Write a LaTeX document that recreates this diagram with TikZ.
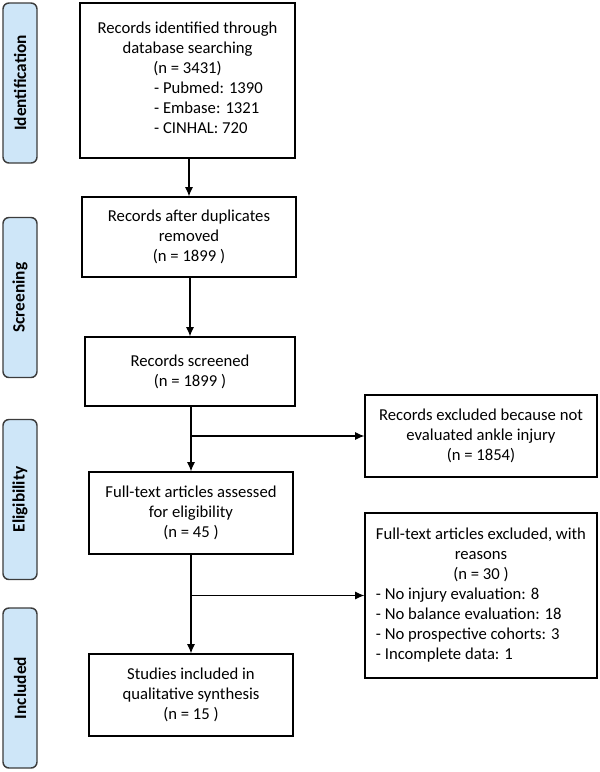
\documentclass[tikz,border=0pt]{standalone}
\usepackage{fontspec}
\setmainfont{Carlito}
\usepackage{tikz}
\usetikzlibrary{arrows.meta,positioning}

\definecolor{phaseblue}{RGB}{206,230,248}
\definecolor{phaseline}{RGB}{60,60,60}

\begin{document}
\begin{tikzpicture}[x=0.75pt,y=-0.75pt]
				\tikzstyle{Phase}	= [draw=phaseline, line width=1.1pt, fill=phaseblue, rounded corners=4.5pt, minimum width=25.5pt, minimum height=120pt, inner sep=0pt]
				\tikzstyle{PhaseText}	= [rotate=90, font=\fontsize{13}{15}\selectfont\bfseries]
				\tikzstyle{Box}		= [draw, line width=0.9pt, fill=white, align=center, inner sep=0pt, font=\fontsize{12.5}{15}\selectfont]
				\tikzstyle{Flow}	= [line width=0.8pt, -{Latex[length=7pt,width=6pt]}]

				\useasboundingbox (0,0) rectangle (600,772);

				% phases
				\node (pid) at (20,83) [Phase] {};
				\node (tid) at (pid.center) [PhaseText] {Identification};
				\node (psc) at (20,297.5) [Phase] {};
				\node (tsc) at (psc.center) [PhaseText] {Screening};
				\node (pel) at (20,499.5) [Phase] {};
				\node (tel) at (pel.center) [PhaseText] {Eligibility};
				\node (pin) at (20,688) [Phase] {};
				\node (tin) at (pin.center) [PhaseText] {Included};

				% main column
				\node (found) at (187.5,80.5) [Box, minimum width=161.25pt, minimum height=116.25pt]
					{Records identified through\\database searching\\(n = 3431)\\
					\makebox[50pt][l]{\begin{tabular}[t]{@{}l@{}}- Pubmed: 1390\\- Embase: 1321\\- CINHAL: 720\end{tabular}}};
				\node (dedup) at (189,237) [Box, minimum width=160.5pt, minimum height=60pt]
					{Records after duplicates\\removed\\(n = 1899 )};
				\node (screen) at (190,371.5) [Box, minimum width=157.5pt, minimum height=51.75pt]
					{Records screened\\(n = 1899 )};
				\node (full) at (191,513) [Box, minimum width=153pt, minimum height=61.5pt]
					{Full-text articles assessed\\for eligibility\\(n = 45 )};
				\node (incl) at (191,695) [Box, minimum width=153pt, minimum height=61.5pt]
					{Studies included in\\qualitative synthesis\\(n = 15 )};

				% exclusions
				\node (exscr) at (481,436) [Box, minimum width=174pt, minimum height=61.5pt]
					{Records excluded because not\\evaluated ankle injury\\(n = 1854)};
				\node (exfull) at (481,595.5) [Box, minimum width=174pt, minimum height=123.75pt]
					{\begin{tabular}{@{}l@{}}
					\multicolumn{1}{@{}c@{}}{Full-text articles excluded, with}\\
					\multicolumn{1}{@{}c@{}}{reasons}\\
					\multicolumn{1}{@{}c@{}}{(n = 30 )}\\
					- No injury evaluation: 8\\
					- No balance evaluation: 18\\
					- No prospective cohorts: 3\\
					- Incomplete data: 1
					\end{tabular}};

				\draw[Flow] (dedup.north |- found.south) -- (dedup.north);
				\draw[Flow] (screen.north |- dedup.south) -- (screen.north);
				\draw[Flow] (full.north |- screen.south) -- (full.north);
				\draw[Flow] (incl.north |- full.south) -- (incl.north);
				\draw[Flow] (full.north |- exscr.west) -- (exscr.west);
				\draw[Flow] (incl.north |- exfull.west) -- (exfull.west);

			\end{tikzpicture}
\end{document}
